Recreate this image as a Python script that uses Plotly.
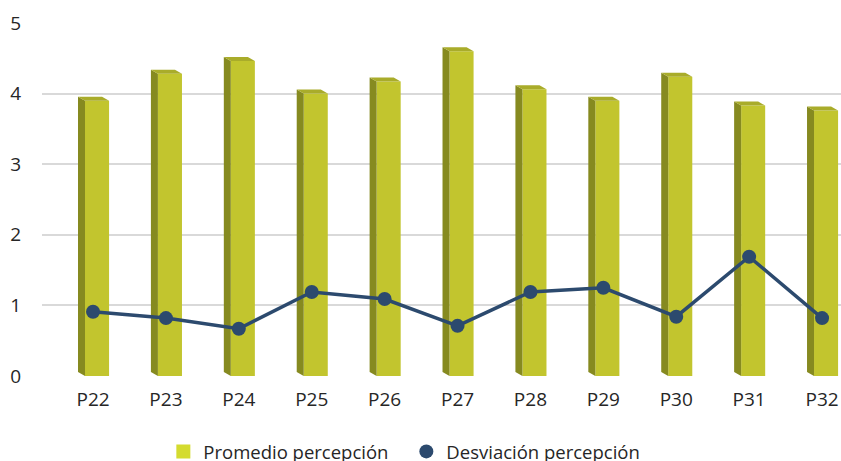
import plotly.graph_objects as go

categories = ["P22", "P23", "P24", "P25", "P26", "P27", "P28", "P29", "P30", "P31", "P32"]
promedio = [3.90, 4.28, 4.46, 4.00, 4.17, 4.60, 4.06, 3.90, 4.24, 3.83, 3.76]
desviacion = [0.91, 0.82, 0.67, 1.19, 1.09, 0.71, 1.19, 1.25, 0.84, 1.69, 0.82]
y_ticks = [0, 1, 2, 3, 4, 5]

FRONT = "#C2C52E"
SIDE = "#868A20"
TOP = "#A9AC2A"
LEGEND_SQ = "#D4DB2F"
LINE = "#2C4A6E"
FONT = "Open Sans"

xs = list(range(len(categories)))
off_l = -0.11     # front face left edge relative to category
w = 0.33          # front face width
dx = 0.096        # depth offset (x units)
dy = 0.057        # depth offset (y units)

side_x, side_y, top_x, top_y = [], [], [], []
for i, v in zip(xs, promedio):
    xl = i + off_l
    xr = xl + w
    side_x += [xl - dx, xl, xl, xl - dx, xl - dx, None]
    side_y += [dy, 0, v, v + dy, dy, None]
    top_x += [xl, xr, xr - dx, xl - dx, xl, None]
    top_y += [v, v, v + dy, v + dy, v, None]

fig = go.Figure()
fig.add_trace(go.Scatter(x=side_x, y=side_y, mode="lines", fill="toself", fillcolor=SIDE,
                         line=dict(width=0), hoverinfo="skip", showlegend=False))
fig.add_trace(go.Scatter(x=top_x, y=top_y, mode="lines", fill="toself", fillcolor=TOP,
                         line=dict(width=0), hoverinfo="skip", showlegend=False))
fig.add_trace(go.Bar(x=xs, y=promedio, width=w, offset=off_l, marker=dict(color=FRONT, line=dict(width=0)),
                     name="Promedio percepción", showlegend=False))
fig.add_trace(go.Scatter(x=xs, y=desviacion, mode="lines+markers", name="Desviación percepción",
                         line=dict(color=LINE, width=3.5), marker=dict(color=LINE, size=14),
                         showlegend=False))
# legend entries
fig.add_trace(go.Scatter(x=[None], y=[None], mode="markers", name="Promedio percepción",
                         marker=dict(symbol="square", color=LEGEND_SQ, size=14)))
fig.add_trace(go.Scatter(x=[None], y=[None], mode="markers", name="Desviación percepción",
                         marker=dict(symbol="circle", color=LINE, size=14)))

fig.update_layout(
    width=841, height=461,
    margin=dict(l=42, r=0, t=23, b=85, autoexpand=False),
    paper_bgcolor="white", plot_bgcolor="white",
    font=dict(family=FONT, size=19, color="#262626"),
    xaxis=dict(range=[-0.70, 10.26], tickvals=xs, ticktext=categories, showgrid=False,
               zeroline=False, showline=False, ticks="", ticklabelstandoff=10, automargin=False,
               tickfont=dict(size=19, color="#262626")),
    yaxis=dict(range=[0, 5], tickvals=y_ticks, showgrid=True, gridcolor="#D9D9D9", gridwidth=1.5,
               zeroline=False, showline=False, ticks="", ticklabelstandoff=20, automargin=False,
               tickfont=dict(size=19, color="#262626")),
    legend=dict(orientation="h", x=0.456, xanchor="center", y=-0.215, yanchor="middle",
                font=dict(size=18.5, color="#262626"), itemwidth=30, tracegroupgap=0,
                entrywidth=198),
    showlegend=True,
)

fig.write_html("out.html", config={"displayModeBar": False},
               post_script="document.body.style.margin='0';document.body.style.overflow='hidden';")
